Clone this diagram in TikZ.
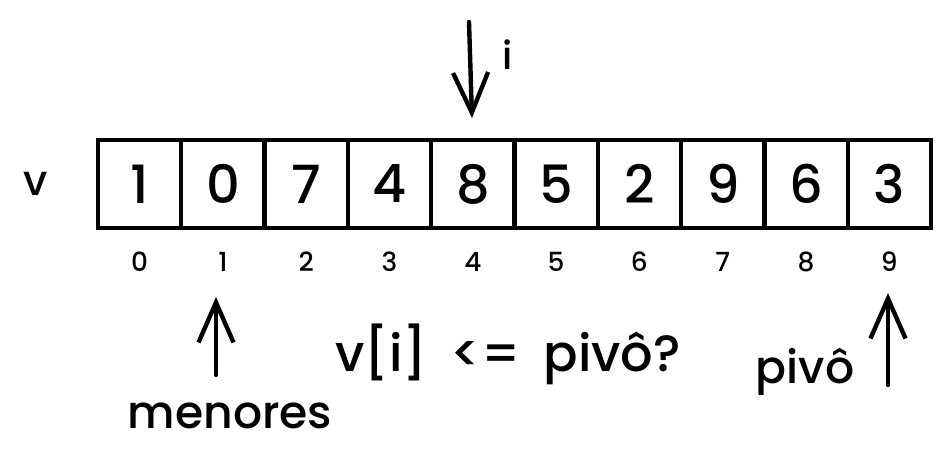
\documentclass[tikz,border=0pt]{standalone}
\usepackage{fontspec}
\setmainfont{Poppins}[BoldFont={Poppins Medium}]
\usetikzlibrary{arrows.meta}

\begin{document}
\begin{tikzpicture}[x=0.02cm, y=-0.02cm,
        cell/.style={draw, line width=2.4pt, minimum width=1.666cm, minimum height=1.76cm, inner sep=0pt, font=\fontsize{30}{30}\selectfont\bfseries},
        idx/.style={inner sep=0pt, font=\fontsize{15}{15}\selectfont\bfseries},
        lbl/.style={inner sep=0pt, font=\fontsize{26}{26}\selectfont\bfseries},
        ptr/.style={line width=2.5pt, line cap=round, -{Straight Barb[length=0.8cm, width=0.7cm]}}]
        \useasboundingbox (0,0) rectangle (946,470);

        % array cells and indices
        \foreach \val [count=\k from 0] in {1,0,7,4,8,5,2,9,6,3} {
            \node[cell] (c\k) at (139.65+83.3*\k, 184) {\val};
            \node[idx] (n\k) at (139.65+83.3*\k, 262) {\k};
        }
        \node[lbl, font=\fontsize{24}{24}\selectfont\bfseries] (vname) at (36,184) {v};

        % pointer i
        \coordinate (itop) at (469,22);
        \coordinate (itip) at (472,118);
        \draw[ptr] (itop) -- (itip);
        \node[lbl, font=\fontsize{22}{22}\selectfont\bfseries] (iname) at (508,55) {i};

        % pointer menores
        \coordinate (mbot) at (216,375);
        \coordinate (mtip) at (216,297);
        \draw[ptr] (mbot) -- (mtip);
        \node[lbl] (menores) at (230,416) {menores};

        % comparison
        \node[lbl, font=\fontsize{29}{29}\selectfont\bfseries] (cmp) at (508,354) {v[i]\hspace{0.45em}<=\hspace{0.45em}pivô?};

        % pointer pivo
        \coordinate (pbot) at (888,385);
        \coordinate (ptip) at (888,293);
        \draw[ptr] (pbot) -- (ptip);
        \node[lbl] (pivo) at (805,372) {pivô};
    \end{tikzpicture}
\end{document}
